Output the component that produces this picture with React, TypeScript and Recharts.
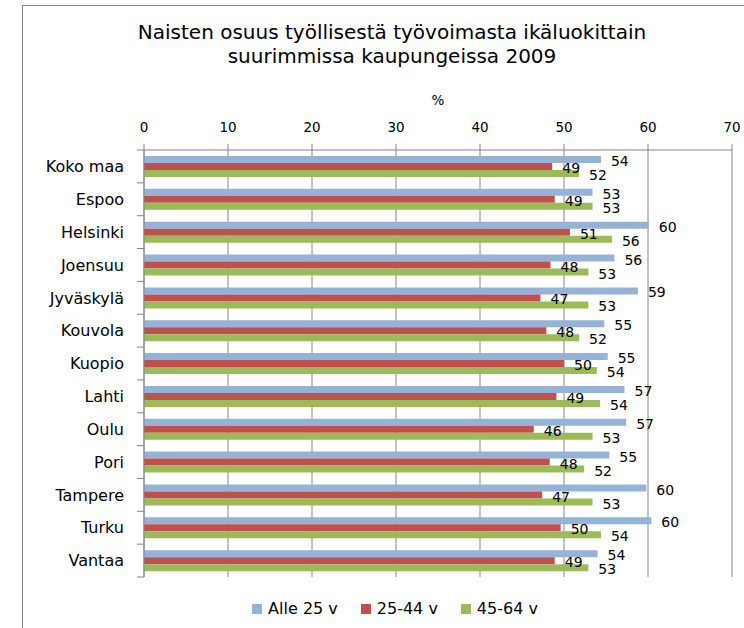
import React from 'react';
import { BarChart, Bar, XAxis, YAxis, CartesianGrid, LabelList, Legend } from 'recharts';

const categories = ['Koko maa', 'Espoo', 'Helsinki', 'Joensuu', 'Jyväskylä', 'Kouvola', 'Kuopio', 'Lahti', 'Oulu', 'Pori', 'Tampere', 'Turku', 'Vantaa'];
const alle25 = [54.4, 53.4, 60.1, 56.0, 58.8, 54.8, 55.2, 57.2, 57.4, 55.4, 59.8, 60.4, 54.0];
const age2544 = [48.6, 48.9, 50.7, 48.4, 47.2, 47.9, 50.0, 49.1, 46.4, 48.3, 47.4, 49.6, 48.9];
const age4564 = [51.8, 53.4, 55.7, 52.9, 52.9, 51.8, 53.9, 54.3, 53.4, 52.4, 53.4, 54.4, 52.9];
const seriesKeys = ['a', 'b', 'c'];
const seriesNames = ['Alle 25 v', '25-44 v', '45-64 v'];
const seriesColors = ['#95B3D7', '#C0504D', '#9BBB59'];
const xTicks = [0, 10, 20, 30, 40, 50, 60, 70];
const titleLines = ['Naisten osuus työllisestä työvoimasta ikäluokittain', 'suurimmissa kaupungeissa 2009'];
const axisTitle = '%';

const data = categories.map((city, i) => ({ city, a: alle25[i], b: age2544[i], c: age4564[i] }));

const W = 744;
const H = 628;
const margin = { top: 120, right: 12, bottom: 51, left: 24 };
const Y_W = 120;
const TICK_SIZE = 6;
const TICK_MARGIN = 14;
const GRAY = '#868686';

const CategoryTick = (props: any) => {
  const { x, y, payload, index } = props;
  const plotH = H - margin.top - 30 - margin.bottom;
  const half = payload && typeof payload.offset === 'number' && payload.offset > 0 ? payload.offset : plotH / categories.length / 2;
  const axisX = x + TICK_SIZE + TICK_MARGIN;
  return (
    <g>
      <line x1={axisX - TICK_SIZE - 1} x2={axisX} y1={y - half} y2={y - half} stroke={GRAY} />
      {index === categories.length - 1 && (
        <line x1={axisX - TICK_SIZE - 1} x2={axisX} y1={y + half} y2={y + half} stroke={GRAY} />
      )}
      <text x={x} y={y} dy="0.36em" textAnchor="end" fontSize={16} fill="#000">
        {payload.value}
      </text>
    </g>
  );
};

const ValueLabel = (props: any) => {
  const { x, y, width, height, value } = props;
  return (
    <text x={Number(x) + Number(width) + 10} y={Number(y) + Number(height) / 2 + 1.5} dy="0.36em" fontSize={14} fill="#000">
      {Math.round(Number(value))}
    </text>
  );
};

const LegendContent = () => (
  <div style={{ display: 'flex', justifyContent: 'center', fontSize: 16, color: '#000', lineHeight: '18px' }}>
    {seriesNames.map((n, i) => (
      <span key={n} style={{ display: 'flex', alignItems: 'center', marginRight: i === seriesNames.length - 1 ? 0 : 23 }}>
        <span style={{ display: 'inline-block', width: 10, height: 10, background: seriesColors[i], marginRight: 6 }} />
        {n}
      </span>
    ))}
  </div>
);

export default function App() {
  return (
    <div style={{ position: 'fixed', left: 0, top: 0, width: W, height: H, background: '#fff', fontFamily: '"DejaVu Sans", sans-serif', overflow: 'hidden' }}>
      <div style={{ position: 'absolute', left: 22, top: 5, right: -2, bottom: -2, borderLeft: `1px solid ${GRAY}`, borderTop: `1px solid ${GRAY}` }} />
      <div style={{ position: 'absolute', left: 0, top: 20, width: 784, textAlign: 'center', fontSize: 20, lineHeight: '24px', color: '#000' }}>
        {titleLines.map((t) => (
          <div key={t}>{t}</div>
        ))}
      </div>
      <div style={{ position: 'absolute', left: 388, top: 92, width: 100, textAlign: 'center', fontSize: 13.5, lineHeight: '16px', color: '#000' }}>
        {axisTitle}
      </div>
      <BarChart
        width={W}
        height={H}
        data={data}
        layout="vertical"
        margin={margin}
        barSize={7}
        barGap={0}
        style={{ position: 'absolute', left: 0, top: 0 }}
      >
        <CartesianGrid horizontal={false} stroke={GRAY} strokeDasharray="" />
        <XAxis
          type="number"
          orientation="top"
          domain={[0, 70]}
          ticks={xTicks}
          height={30}
          axisLine={{ stroke: GRAY }}
          tickLine={{ stroke: GRAY }}
          tickSize={6}
          tickMargin={12}
          tick={{ fill: '#000', fontSize: 13.5 }}
          interval={0}
        />
        <YAxis
          type="category"
          dataKey="city"
          width={Y_W}
          axisLine={{ stroke: GRAY }}
          tickLine={false}
          tickSize={TICK_SIZE}
          tickMargin={TICK_MARGIN}
          tick={<CategoryTick />}
          interval={0}
        />
        <Legend verticalAlign="middle" align="center" layout="horizontal" wrapperStyle={{ top: 600, left: 46, width: 698 }} content={<LegendContent />} />
        {seriesKeys.map((k, i) => (
          <Bar key={k} dataKey={k} name={seriesNames[i]} fill={seriesColors[i]} isAnimationActive={false}>
            <LabelList dataKey={k} content={<ValueLabel />} />
          </Bar>
        ))}
      </BarChart>
    </div>
  );
}
